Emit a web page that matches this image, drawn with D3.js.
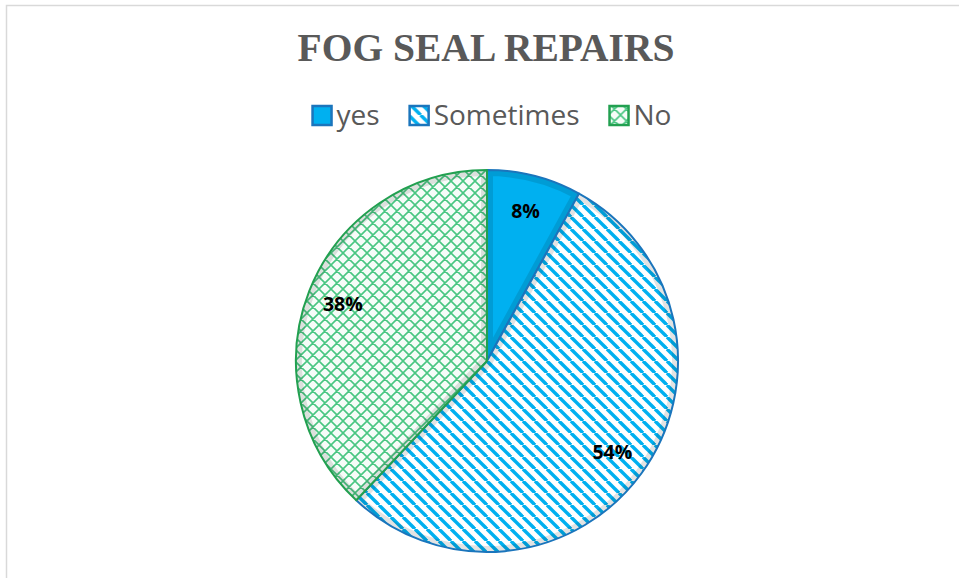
<!DOCTYPE html>
<html>
<head>
<meta charset="utf-8">
<script src="https://cdn.jsdelivr.net/npm/d3@7"></script>
<style>
  html, body { margin: 0; padding: 0; background: #fff; }
  svg { display: block; }
</style>
</head>
<body>
<script>
var categories = ["yes", "Sometimes", "No"];
var values = [8, 54, 38];
var labels = ["8%", "54%", "38%"];

var width = 959,
  height = 578;

var svg = d3
  .select("body")
  .append("svg")
  .attr("width", width)
  .attr("height", height);

var defs = svg.append("defs");

// wide downward diagonal (Sometimes)
var sp = 12;
var stripes = defs
  .append("pattern")
  .attr("id", "pat-sometimes")
  .attr("patternUnits", "userSpaceOnUse")
  .attr("width", sp)
  .attr("height", sp);
stripes.append("rect").attr("width", sp).attr("height", sp).attr("fill", "#fff");
stripes
  .selectAll("line")
  .data([-sp, 0, sp])
  .enter()
  .append("line")
  .attr("x1", (d) => d)
  .attr("y1", 0)
  .attr("x2", (d) => d + sp)
  .attr("y2", sp)
  .attr("stroke", "#00b0f0")
  .attr("stroke-width", 3.4);

// diagonal cross hatch (No)
var hp = 12;
var hatch = defs
  .append("pattern")
  .attr("id", "pat-no")
  .attr("patternUnits", "userSpaceOnUse")
  .attr("width", hp)
  .attr("height", hp);
hatch.append("rect").attr("width", hp).attr("height", hp).attr("fill", "#f6fcf8");
hatch
  .append("path")
  .attr(
    "d",
    "M0,0L" + hp + "," + hp + "M0," + hp + "L" + hp + ",0" +
      "M-2,2L2,-2M" + (hp - 2) + "," + (hp + 2) + "L" + (hp + 2) + "," + (hp - 2) +
      "M-2," + (hp - 2) + "L2," + (hp + 2) + "M" + (hp - 2) + ",-2L" + (hp + 2) + ",2"
  )
  .attr("stroke", "#00b050")
  .attr("stroke-width", 1.6)
  .attr("stroke-opacity", 0.7);

var fills = ["#00b0f0", "url(#pat-sometimes)", "url(#pat-no)"];
var strokes = ["#1b75bc", "#1b75bc", "#22a050"];

var color = d3.scaleOrdinal().domain(categories).range(fills);
var strokeColor = d3.scaleOrdinal().domain(categories).range(strokes);

// chart frame (top and left edges only)
svg
  .append("path")
  .attr("d", "M6.5," + height + "V5.5H" + width)
  .attr("fill", "none")
  .attr("stroke", "#d9d9d9")
  .attr("stroke-width", 1.5);

// title
svg
  .append("text")
  .attr("x", 486)
  .attr("y", 61)
  .attr("text-anchor", "middle")
  .attr("font-family", "'Liberation Serif', 'Times New Roman', serif")
  .attr("font-weight", "bold")
  .attr("font-size", 39.5)
  .attr("fill", "#595959")
  .text("FOG SEAL REPAIRS");

// legend
var legend = svg.append("g").attr("class", "legend");
var items = legend
  .selectAll("g")
  .data(categories)
  .enter()
  .append("g");
items
  .append("rect")
  .attr("x", 1)
  .attr("y", -9)
  .attr("width", 19)
  .attr("height", 19)
  .attr("fill", (d) => color(d))
  .attr("stroke", (d) => strokeColor(d))
  .attr("stroke-width", 2.5);
items
  .append("text")
  .attr("x", 25)
  .attr("y", 0)
  .attr("dy", "0.36em")
  .attr("font-family", "'Open Sans', sans-serif")
  .attr("font-size", 28)
  .attr("fill", "#595959")
  .text((d) => d);

var offset = 0;
var gap = 30;
items.each(function () {
  var w = this.getBBox().width;
  d3.select(this).attr("data-x", offset);
  offset += w + gap;
});
var total = offset - gap;
var lx = 491 - total / 2;
items.attr("transform", function () {
  return "translate(" + (lx + +this.getAttribute("data-x")) + ",115)";
});

// pie
var cx = 487,
  cy = 361,
  radius = 191;

var pie = d3
  .pie()
  .sort(null)
  .value((d, i) => values[i]);
var arcs = pie(categories);

var arc = d3.arc().innerRadius(0).outerRadius(radius);
var labelArc = d3.arc().innerRadius(155).outerRadius(155);

var g = svg
  .append("g")
  .attr("transform", "translate(" + cx + "," + cy + ")");

arcs.forEach(function (d, i) {
  defs
    .append("clipPath")
    .attr("id", "clip-" + i)
    .append("path")
    .attr("d", arc(d));
});

var slices = g
  .selectAll("g.slice")
  .data(arcs)
  .enter()
  .append("g")
  .attr("class", "slice");

slices
  .append("path")
  .attr("d", arc)
  .attr("fill", (d) => color(d.data));

// inner shading band
slices
  .append("path")
  .attr("d", arc)
  .attr("fill", "none")
  .attr("stroke", "#000")
  .attr("stroke-opacity", 0.11)
  .attr("stroke-width", 12)
  .attr("clip-path", (d, i) => "url(#clip-" + i + ")");

slices
  .append("path")
  .attr("d", arc)
  .attr("fill", "none")
  .attr("stroke", (d) => strokeColor(d.data))
  .attr("stroke-width", 2)
  .attr("stroke-linejoin", "round");

g.selectAll("text.label")
  .data(arcs)
  .enter()
  .append("text")
  .attr("class", "label")
  .attr("transform", (d) => "translate(" + labelArc.centroid(d) + ")")
  .attr("text-anchor", "middle")
  .attr("dy", "0.36em")
  .attr("font-family", "'Open Sans', sans-serif")
  .attr("font-weight", "bold")
  .attr("font-size", 19.5)
  .attr("fill", "#000")
  .text((d, i) => labels[i]);
</script>
</body>
</html>
